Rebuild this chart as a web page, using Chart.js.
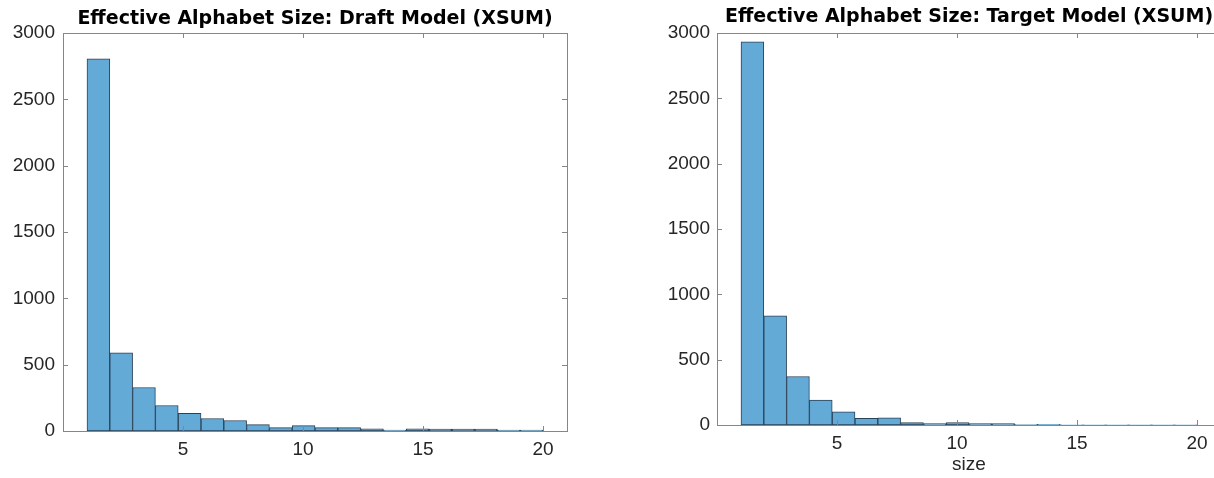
<!DOCTYPE html>
<html>
<head>
<meta charset="utf-8">
<title>Effective Alphabet Size (XSUM)</title>
<script src="https://cdn.jsdelivr.net/npm/chart.js@4.4.1/dist/chart.umd.min.js"></script>
<style>
  html, body { margin: 0; padding: 0; background: #fff; overflow: hidden; }
  body { width: 1214px; height: 478px; position: relative; }
  canvas { position: absolute; top: 0; }
  #draftChart { left: 0; }
  #targetChart { left: 640px; }
</style>
</head>
<body>
<canvas id="draftChart" width="630" height="478"></canvas>
<canvas id="targetChart" width="658" height="478"></canvas>
<script>
// ============================================================
// Data
// ============================================================

// histogram bin edges (20 bins over 1..20)
const binEdges = [1, 1.95, 2.9, 3.85, 4.8, 5.75, 6.7, 7.65, 8.6, 9.55, 10.5,
  11.45, 12.4, 13.35, 14.3, 15.25, 16.2, 17.15, 18.1, 19.05, 20];

const draftCounts = [2805, 590, 328, 192, 133, 94, 79, 48, 25, 40,
  25, 25, 17, 7, 17, 15, 15, 15, 7, 7];

const targetCounts = [2933, 835, 371, 191, 101, 51, 54, 19, 11, 18,
  11, 11, 3, 6, 1, 1, 1, 1, 1, 1];

const xTicks = [5, 10, 15, 20];
const yTicks = [0, 500, 1000, 1500, 2000, 2500, 3000];

const draftTitle = 'Effective Alphabet Size: Draft Model (XSUM)';
const targetTitle = 'Effective Alphabet Size: Target Model (XSUM)';
const xLabel = 'size';

// ============================================================
// Helpers
// ============================================================

const FONT = "'Liberation Sans', Arial, Helvetica, sans-serif";
const TITLE_FONT = "'DejaVu Sans', 'Liberation Sans', sans-serif";
const TEXT_COLOR = '#262626';
const AXIS_COLOR = '#868686';

function toPoints(counts) {
  return counts.map((c, i) => ({ x: (binEdges[i] + binEdges[i + 1]) / 2, y: c }));
}

// MATLAB-style box with inward ticks on all four sides
const boxPlugin = {
  id: 'box',
  afterDatasetsDraw(chart) {
    const { ctx, chartArea: a, scales } = chart;
    const len = 5;
    ctx.save();
    ctx.strokeStyle = AXIS_COLOR;
    ctx.lineWidth = 1;
    ctx.beginPath();
    xTicks.forEach(v => {
      const px = Math.round(scales.x.getPixelForValue(v)) + 0.5;
      ctx.moveTo(px, a.bottom); ctx.lineTo(px, a.bottom - len);
      ctx.moveTo(px, a.top); ctx.lineTo(px, a.top + len);
    });
    yTicks.forEach(v => {
      const py = Math.round(scales.y.getPixelForValue(v)) + 0.5;
      ctx.moveTo(a.left, py); ctx.lineTo(a.left + len, py);
      ctx.moveTo(a.right, py); ctx.lineTo(a.right - len, py);
    });
    ctx.stroke();
    ctx.strokeRect(Math.round(a.left) + 0.5, Math.round(a.top) + 0.5,
      Math.round(a.right - a.left), Math.round(a.bottom - a.top));
    ctx.restore();
  }
};

function makeHistogram(canvasId, counts, title, opts) {
  const ctx = document.getElementById(canvasId).getContext('2d');
  return new Chart(ctx, {
    type: 'bar',
    data: {
      datasets: [{
        data: toPoints(counts),
        backgroundColor: 'rgb(100, 170, 215)',
        borderColor: '#2a4257',
        borderWidth: 1,
        borderSkipped: false,
        barPercentage: 1,
        categoryPercentage: 1
      }]
    },
    options: {
      responsive: false,
      animation: false,
      devicePixelRatio: 1,
      layout: { padding: 0 },
      plugins: {
        legend: { display: false },
        tooltip: { enabled: false },
        title: {
          display: true,
          text: title,
          color: '#000',
          font: { family: TITLE_FONT, size: 19, weight: 'bold', lineHeight: 1.2 },
          padding: { top: opts.titleTop, bottom: 33 - opts.titleTop - 22.8 }
        }
      },
      scales: {
        x: {
          type: 'linear',
          min: 0,
          max: 21,
          offset: false,
          grid: { display: false, drawTicks: false },
          border: { display: false },
          afterBuildTicks: s => { s.ticks = xTicks.map(v => ({ value: v })); },
          afterFit: s => { s.height = opts.xHeight; },
          ticks: {
            color: TEXT_COLOR, font: { family: FONT, size: 19 }, padding: 7, maxRotation: 0,
            callback: v => String(v)
          },
          title: {
            display: !!opts.xTitle,
            text: opts.xTitle || '',
            color: TEXT_COLOR,
            font: { family: FONT, size: 19 },
            padding: { top: 0, bottom: 2 }
          }
        },
        y: {
          min: 0,
          max: 3000,
          grid: { display: false, drawTicks: false },
          border: { display: false },
          afterBuildTicks: s => { s.ticks = yTicks.map(v => ({ value: v })); },
          afterFit: s => { s.width = opts.axisWidth; },
          ticks: {
            color: TEXT_COLOR, font: { family: FONT, size: 19 }, padding: opts.yPad,
            callback: v => String(v)
          }
        },
        // empty right-hand axis, same width as the left one, so the title centres over the plot box
        yRight: {
          position: 'right',
          min: 0,
          max: 3000,
          grid: { display: false, drawTicks: false },
          border: { display: false },
          ticks: { display: false },
          afterFit: s => { s.width = opts.axisWidth; }
        }
      }
    },
    plugins: [boxPlugin]
  });
}

// ============================================================
// Boot
// ============================================================

makeHistogram('draftChart', draftCounts, draftTitle,
  { axisWidth: 63, xHeight: 47, titleTop: 7.5, yPad: 8 });
makeHistogram('targetChart', targetCounts, targetTitle,
  { axisWidth: 77, xHeight: 53, titleTop: 5.8, yPad: 7, xTitle: xLabel });
</script>
</body>
</html>
